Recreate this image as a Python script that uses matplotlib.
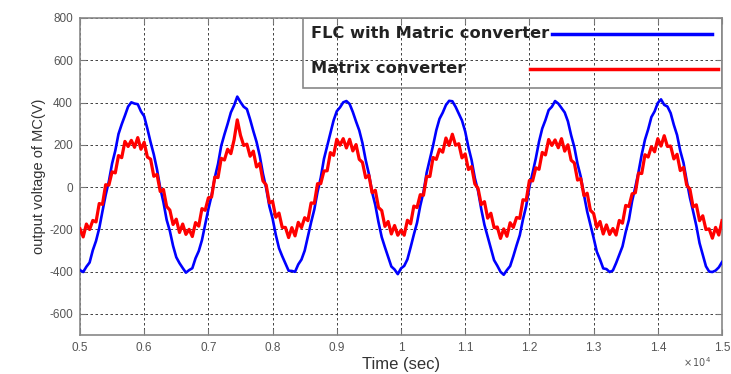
import numpy as np
import matplotlib
matplotlib.use("Agg")
import matplotlib.pyplot as plt
from matplotlib.patches import Rectangle
from matplotlib.lines import Line2D

plt.rcParams['font.family'] = ['Liberation Sans', 'DejaVu Sans']
plt.rcParams['axes.unicode_minus'] = False

# sample times (x 10^4 sec), spacing 0.005
t_start, t_step, n_pts = 0.5, 0.005, 201

flc_mc = [
    -393, -402, -377, -357, -299, -255, -195, -115, -38, 27,
    111, 172, 251, 297, 338, 381, 401, 395, 392, 358,
    335, 276, 212, 154, 83, -4, -72, -155, -208, -278,
    -332, -360, -383, -405, -393, -384, -337, -303, -251, -177,
    -104, -40, 45, 109, 195, 249, 299, 353, 386, 428,
    402, 380, 369, 320, 265, 214, 148, 63, -5, -91,
    -149, -226, -289, -327, -362, -396, -397, -401, -366, -343,
    -301, -234, -167, -106, -23, 44, 133, 193, 252, 315,
    359, 377, 401, 407, 393, 355, 310, 268, 208, 128,
    62, -24, -85, -167, -237, -285, -330, -376, -390, -412,
    -385, -373, -342, -285, -225, -169, -89, -24, 68, 132,
    197, 269, 323, 352, 388, 408, 406, 380, 347, 315,
    263, 189, 127, 43, -18, -104, -179, -235, -289, -346,
    -372, -401, -415, -393, -374, -327, -276, -228, -153, -90,
    1, 67, 136, 215, 277, 317, 364, 380, 407, 395,
    374, 353, 311, 245, 189, 109, 49, -37, -116, -177,
    -240, -306, -343, -385, -388, -402, -395, -360, -320, -281,
    -213, -155, -66, 0, 72, 155, 224, 273, 331, 358,
    398, 415, 389, 381, 350, 294, 246, 171, 115, 30,
    -50, -115, -183, -265, -320, -375, -400, -402, -395, -380,
    -355,
]

matrix_conv = [
    -197, -236, -175, -201, -158, -165, -78, -82, 11, 9,
    72, 67, 149, 139, 216, 192, 221, 188, 234, 179,
    212, 142, 132, 51, 60, -21, -11, -92, -109, -177,
    -152, -215, -175, -224, -200, -234, -168, -185, -102, -110,
    -51, -47, 47, 45, 136, 128, 179, 158, 223, 318,
    245, 197, 203, 146, 170, 95, 112, 29, 10, -75,
    -67, -143, -123, -191, -191, -239, -192, -231, -167, -192,
    -145, -159, -75, -77, 16, 16, 76, 77, 163, 150,
    226, 198, 229, 185, 226, 171, 201, 131, 117, 44,
    56, -27, -15, -97, -111, -186, -163, -222, -182, -228,
    -204, -228, -157, -174, -90, -97, -36, -39, 50, 50,
    140, 131, 179, 165, 232, 197, 250, 198, 205, 138,
    157, 83, 97, 15, -6, -83, -69, -147, -124, -192,
    -189, -243, -198, -233, -169, -191, -144, -148, -60, -63,
    31, 29, 91, 84, 164, 152, 225, 197, 223, 186,
    229, 170, 200, 127, 114, 33, 40, -41, -29, -110,
    -125, -191, -163, -222, -179, -224, -196, -227, -158, -171,
    -87, -92, -32, -27, 66, 64, 153, 142, 191, 167,
    229, 194, 243, 192, 194, 133, 155, 78, 93, 9,
    -10, -94, -84, -159, -136, -201, -198, -242, -191, -227,
    -159,
]

series_labels = ["FLC with Matric converter", "Matrix converter"]
x_ticks = [0.5, 0.6, 0.7, 0.8, 0.9, 1.0, 1.1, 1.2, 1.3, 1.4, 1.5]
x_tick_labels = ["0.5", "0.6", "0.7", "0.8", "0.9", "1", "1.1", "1.2", "1.3", "1.4", "1.5"]
y_ticks = [-600, -400, -200, 0, 200, 400, 600, 800]

t = t_start + t_step * np.arange(n_pts)

fig = plt.figure(figsize=(7.31, 3.74), dpi=100)
ax = fig.add_axes([0.1094, 0.1043, 0.8783, 0.8476])

ax.plot(t, flc_mc, color='#0000ff', lw=1.9, zorder=3)
ax.plot(t, matrix_conv, color='#ff0000', lw=2.3, zorder=4)

ax.set_xlim(0.5, 1.5)
ax.set_ylim(-700, 800)
ax.set_xticks(x_ticks)
ax.set_xticklabels(x_tick_labels)
ax.set_yticks(y_ticks)

ax.grid(True, color='#222222', linestyle=(0, (3, 3)), linewidth=0.6)
ax.tick_params(direction='in', top=True, right=True, length=4, width=0.8,
               colors='#777777', labelcolor='#555555', labelsize=8.5, pad=5)
for s in ax.spines.values():
    s.set_color('#888888')
    s.set_linewidth(1.2)

ax.set_xlabel("Time (sec)", fontsize=12, color='#333333', labelpad=2)
ax.set_ylabel("output voltage of MC(V)", fontsize=10.5, color='#333333', labelpad=2)
fig.text(0.935, 0.02, r"$\times\,10^{4}$", fontsize=7, color='#555555')

# legend (text left, line right)
ax.add_patch(Rectangle((0.347, 0.779), 0.653, 0.221, transform=ax.transAxes,
                       fill=False, edgecolor='#888888', lw=1.2, zorder=5))
ax.text(0.36, 0.950, series_labels[0], transform=ax.transAxes, fontsize=11.7,
        family='DejaVu Sans', fontweight='bold', color='#222222',
        va='center', ha='left', zorder=6)
ax.text(0.36, 0.840, series_labels[1], transform=ax.transAxes, fontsize=11.7,
        family='DejaVu Sans', fontweight='bold', color='#222222',
        va='center', ha='left', zorder=6)
ax.add_line(Line2D([0.735, 0.984], [0.950, 0.950], transform=ax.transAxes,
                   color='#0000ff', lw=2.5, zorder=6))
ax.add_line(Line2D([0.701, 0.994], [0.840, 0.840], transform=ax.transAxes,
                   color='#ff0000', lw=2.5, zorder=6))

fig.savefig("out.png", dpi=100)
